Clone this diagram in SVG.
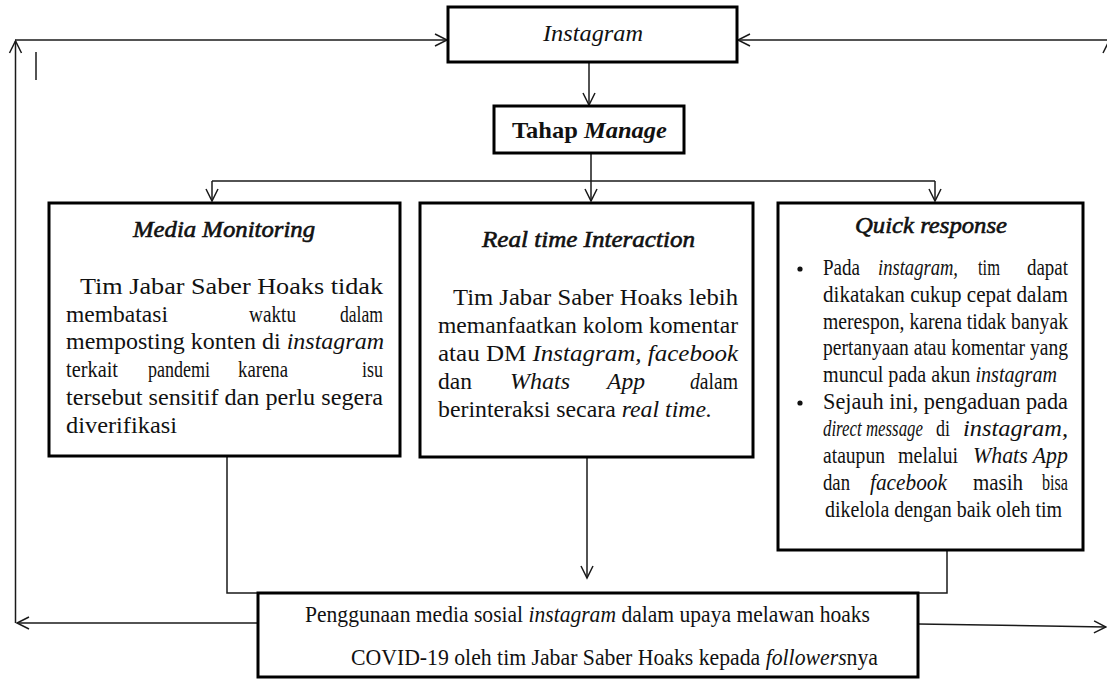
<svg xmlns="http://www.w3.org/2000/svg" width="1107" height="679" viewBox="0 0 1107 679">
<style>
.t{font-family:"Liberation Serif","Times New Roman",serif;font-size:23px;fill:#111}
.i{font-style:italic}
.b{font-weight:bold}
.h{font-weight:bold;font-style:italic}
.ti{font-style:italic;stroke:#111;stroke-width:0.6}
.box{fill:#fff;stroke:#000;stroke-width:3}
.ln{fill:none;stroke:#1a1a1a;stroke-width:1.5}
.ar{fill:none;stroke:#1a1a1a;stroke-width:1.5;marker-end:url(#arr)}
</style>
<defs>
<marker id="arr" markerUnits="userSpaceOnUse" markerWidth="14" markerHeight="14" refX="12" refY="6" orient="auto" overflow="visible">
<path d="M0,0 L12,6 L0,12" fill="none" stroke="#1a1a1a" stroke-width="1.5"/>
</marker>
</defs>
<g id="connectors">
<line class="ar" x1="589" y1="62" x2="589" y2="105"/>
<line class="ln" x1="591" y1="153" x2="591" y2="181"/>
<line class="ln" x1="212" y1="181" x2="935" y2="181"/>
<line class="ar" x1="212" y1="181" x2="212" y2="201"/>
<line class="ar" x1="591" y1="181" x2="591" y2="201"/>
<line class="ar" x1="935" y1="181" x2="935" y2="201"/>
<line class="ar" x1="587" y1="457" x2="587" y2="578"/>
<polyline class="ln" points="227,456 227,593 947,593 947,550"/>
<line class="ar" x1="258" y1="623" x2="17" y2="623"/>
<line class="ar" x1="15.5" y1="623" x2="15.5" y2="41"/>
<line class="ar" x1="15" y1="40" x2="447" y2="40"/>
<line class="ar" x1="918" y1="624" x2="1106" y2="627"/>
<line class="ar" x1="1109" y1="627" x2="1109" y2="41"/>
<line class="ar" x1="1109" y1="40" x2="738" y2="40"/>
<line class="ln" x1="36" y1="52" x2="36" y2="80"/>
</g>
<g id="instagram">
<rect class="box" x="448" y="7" width="289" height="55"/>
<text class="t i" x="543" y="41" textLength="100" lengthAdjust="spacingAndGlyphs">Instagram</text>
</g>
<g id="tahap-manage">
<rect class="box" x="494" y="106" width="190" height="47"/>
<text class="t" x="512" y="138" textLength="155" lengthAdjust="spacingAndGlyphs"><tspan class="b">Tahap </tspan><tspan class="h">Manage</tspan></text>
</g>
<g id="media-monitoring">
<rect class="box" x="49" y="203" width="351" height="253"/>
<text class="t ti" x="133" y="237" textLength="182" lengthAdjust="spacingAndGlyphs">Media Monitoring</text>
<text class="t" x="80" y="294" textLength="303" lengthAdjust="spacingAndGlyphs">Tim Jabar Saber Hoaks tidak</text>
<text class="t" x="66" y="322" textLength="102" lengthAdjust="spacingAndGlyphs">membatasi</text>
<text class="t" x="249" y="322" textLength="47" lengthAdjust="spacingAndGlyphs">waktu</text>
<text class="t" x="340" y="322" textLength="43" lengthAdjust="spacingAndGlyphs">dalam</text>
<text class="t" x="66" y="349" textLength="318" lengthAdjust="spacingAndGlyphs">memposting konten di <tspan class="i">instagram</tspan></text>
<text class="t" x="66" y="377" textLength="52" lengthAdjust="spacingAndGlyphs">terkait</text>
<text class="t" x="148" y="377" textLength="62" lengthAdjust="spacingAndGlyphs">pandemi</text>
<text class="t" x="238" y="377" textLength="50" lengthAdjust="spacingAndGlyphs">karena</text>
<text class="t" x="362" y="377" textLength="21" lengthAdjust="spacingAndGlyphs">isu</text>
<text class="t" x="66" y="405" textLength="317" lengthAdjust="spacingAndGlyphs">tersebut sensitif dan perlu segera</text>
<text class="t" x="66" y="433" textLength="111" lengthAdjust="spacingAndGlyphs">diverifikasi</text>
</g>
<g id="real-time-interaction">
<rect class="box" x="420" y="203" width="333" height="254"/>
<text class="t ti" x="482" y="247" textLength="213" lengthAdjust="spacingAndGlyphs">Real time Interaction</text>
<text class="t" x="453" y="305" textLength="285" lengthAdjust="spacingAndGlyphs">Tim Jabar Saber Hoaks lebih</text>
<text class="t" x="438" y="333" textLength="300" lengthAdjust="spacingAndGlyphs">memanfaatkan kolom komentar</text>
<text class="t" x="438" y="361" textLength="300" lengthAdjust="spacingAndGlyphs">atau DM <tspan class="i">Instagram, facebook</tspan></text>
<text class="t" x="438" y="389" textLength="34" lengthAdjust="spacingAndGlyphs">dan</text>
<text class="t i" x="510" y="389" textLength="60" lengthAdjust="spacingAndGlyphs">Whats</text>
<text class="t i" x="607" y="389" textLength="38" lengthAdjust="spacingAndGlyphs">App</text>
<text class="t" x="690" y="389" textLength="48" lengthAdjust="spacingAndGlyphs"><tspan class="i">d</tspan>alam</text>
<text class="t" x="438" y="417" textLength="274" lengthAdjust="spacingAndGlyphs">berinteraksi secara <tspan class="i">real time.</tspan></text>
</g>
<g id="quick-response">
<rect class="box" x="778" y="203" width="305" height="347"/>
<text class="t ti" x="855" y="233" textLength="152" lengthAdjust="spacingAndGlyphs">Quick response</text>
<circle cx="800" cy="269" r="2.6" fill="#111"/>
<circle cx="800" cy="403" r="2.6" fill="#111"/>
<text class="t" x="823" y="275" textLength="37" lengthAdjust="spacingAndGlyphs">Pada</text>
<text class="t i" x="878" y="275" textLength="80" lengthAdjust="spacingAndGlyphs">instagram,</text>
<text class="t" x="978" y="275" textLength="22" lengthAdjust="spacingAndGlyphs">tim</text>
<text class="t" x="1027" y="275" textLength="41" lengthAdjust="spacingAndGlyphs">dapat</text>
<text class="t" x="823" y="302" textLength="245" lengthAdjust="spacingAndGlyphs">dikatakan cukup cepat dalam</text>
<text class="t" x="823" y="329" textLength="245" lengthAdjust="spacingAndGlyphs">merespon, karena tidak banyak</text>
<text class="t" x="823" y="355" textLength="245" lengthAdjust="spacingAndGlyphs">pertanyaan atau komentar yang</text>
<text class="t" x="823" y="382" textLength="234" lengthAdjust="spacingAndGlyphs">muncul pada akun <tspan class="i">instagram</tspan></text>
<text class="t" x="823" y="409" textLength="245" lengthAdjust="spacingAndGlyphs">Sejauh ini, pengaduan pada</text>
<text class="t i" x="823" y="436" textLength="100" lengthAdjust="spacingAndGlyphs">direct message</text>
<text class="t" x="936" y="436" textLength="14" lengthAdjust="spacingAndGlyphs">di</text>
<text class="t i" x="963" y="436" textLength="105" lengthAdjust="spacingAndGlyphs">instagram,</text>
<text class="t" x="823" y="463" textLength="62" lengthAdjust="spacingAndGlyphs">ataupun</text>
<text class="t" x="898" y="463" textLength="60" lengthAdjust="spacingAndGlyphs">melalui</text>
<text class="t i" x="973" y="463" textLength="95" lengthAdjust="spacingAndGlyphs">Whats App</text>
<text class="t" x="823" y="490" textLength="27" lengthAdjust="spacingAndGlyphs">dan</text>
<text class="t i" x="870" y="490" textLength="77" lengthAdjust="spacingAndGlyphs">facebook</text>
<text class="t" x="973" y="490" textLength="50" lengthAdjust="spacingAndGlyphs">masih</text>
<text class="t" x="1042" y="490" textLength="26" lengthAdjust="spacingAndGlyphs">bisa</text>
<text class="t" x="825" y="517" textLength="237" lengthAdjust="spacingAndGlyphs">dikelola dengan baik oleh tim</text>
</g>
<g id="penggunaan">
<rect class="box" x="258" y="593" width="660" height="84" stroke-width="2.5"/>
<text class="t" x="305" y="622" textLength="565" lengthAdjust="spacingAndGlyphs">Penggunaan media sosial <tspan class="i">instagram</tspan> dalam upaya melawan hoaks</text>
<text class="t" x="351" y="665" textLength="527" lengthAdjust="spacingAndGlyphs">COVID-19 oleh tim Jabar Saber Hoaks kepada <tspan class="i">followers</tspan>nya</text>
</g>
</svg>
